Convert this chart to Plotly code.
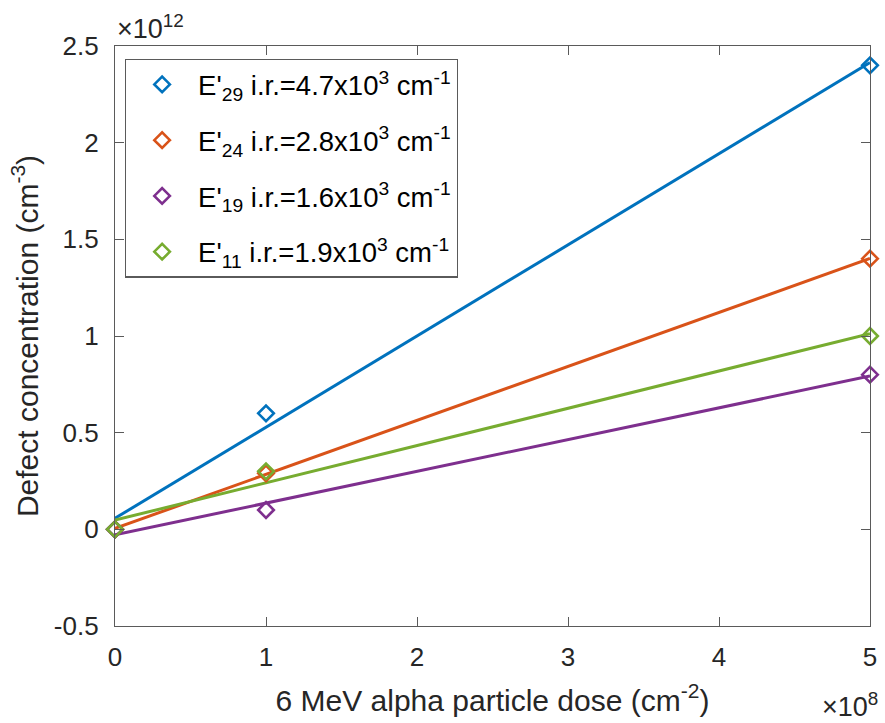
import numpy as np
import plotly.graph_objects as go

dose = [0, 1, 5]  # x 1e8 cm^-2
series_names = [
    "E'<sub>29</sub> i.r.=4.7x10<sup>3</sup> cm<sup>-1</sup>",
    "E'<sub>24</sub> i.r.=2.8x10<sup>3</sup> cm<sup>-1</sup>",
    "E'<sub>19</sub> i.r.=1.6x10<sup>3</sup> cm<sup>-1</sup>",
    "E'<sub>11</sub> i.r.=1.9x10<sup>3</sup> cm<sup>-1</sup>",
]
e29 = [0.0, 0.6, 2.4]   # x 1e12 cm^-3
e24 = [0.0, 0.29, 1.4]
e19 = [0.0, 0.1, 0.8]
e11 = [0.0, 0.3, 1.0]
colors = ["#0072BD", "#D95319", "#7E2F8E", "#77AC30"]

x_ticks = [0, 1, 2, 3, 4, 5]
y_ticks = [-0.5, 0, 0.5, 1, 1.5, 2, 2.5]
y_ticklabels = ["-0.5", "0", "0.5", "1", "1.5", "2", "2.5"]

FONT = "Liberation Sans, Arial"
TXT = "#262626"

fig = go.Figure()
all_series = [e29, e24, e19, e11]
# least-squares fit lines
for ys, c in zip(all_series, colors):
    slope, intercept = np.polyfit(dose, ys, 1)
    xf = np.array([min(dose), max(dose)])
    fig.add_trace(go.Scatter(x=xf, y=slope * xf + intercept, mode="lines",
                             line=dict(color=c, width=3), showlegend=False,
                             hoverinfo="skip"))
for i, (ys, c, n) in enumerate(zip(all_series, colors, series_names)):
    fig.add_trace(go.Scatter(x=dose, y=ys, mode="markers", name=n,
                             legendgroup=f"g{i}",
                             marker=dict(symbol="diamond-open", size=12, color=c,
                                         line=dict(width=2.6, color=c)),
                             cliponaxis=False))

axis_common = dict(showgrid=False, zeroline=False, showline=True, linecolor="#5a5a5a",
                   linewidth=1.3, mirror="ticks", ticks="inside", ticklen=9,
                   tickcolor="#5a5a5a", tickwidth=1.3,
                   tickfont=dict(family=FONT, size=26, color=TXT))

fig.update_layout(
    width=885, height=723,
    margin=dict(l=115, r=8, t=46, b=97),
    paper_bgcolor="white", plot_bgcolor="white",
    font=dict(family=FONT, color=TXT),
    xaxis=dict(range=[0, 5], tickvals=x_ticks, ticktext=[str(v) for v in x_ticks],
               ticklabelstandoff=8,
               title=dict(text="6 MeV alpha particle dose (cm<sup>-2</sup>)",
                          font=dict(size=30, color=TXT), standoff=18),
               **axis_common),
    yaxis=dict(range=[-0.5, 2.5], tickvals=y_ticks, ticktext=y_ticklabels,
               ticklabelstandoff=10,
               title=dict(text="Defect concentration (cm<sup>-3</sup>)",
                          font=dict(size=30, color=TXT), standoff=6),
               **axis_common),
    legend=dict(x=0.013, y=0.978, xanchor="left", yanchor="top",
                bgcolor="white", bordercolor="#5a5a5a", borderwidth=1.3,
                font=dict(family=FONT, size=27.5, color="#000000"),
                itemwidth=62, tracegroupgap=17),
    annotations=[
        dict(text="×10<sup>12</sup>", xref="paper", yref="paper", x=0.0, y=1.0,
             xanchor="left", yanchor="bottom", showarrow=False,
             font=dict(family=FONT, size=27, color=TXT), yshift=0, xshift=0),
        dict(text="×10<sup>8</sup>", xref="paper", yref="paper", x=1.0, y=0.0,
             xanchor="right", yanchor="top", showarrow=False,
             font=dict(family=FONT, size=27, color=TXT), yshift=-60, xshift=10),
    ],
)
fig.write_html("out.html")
